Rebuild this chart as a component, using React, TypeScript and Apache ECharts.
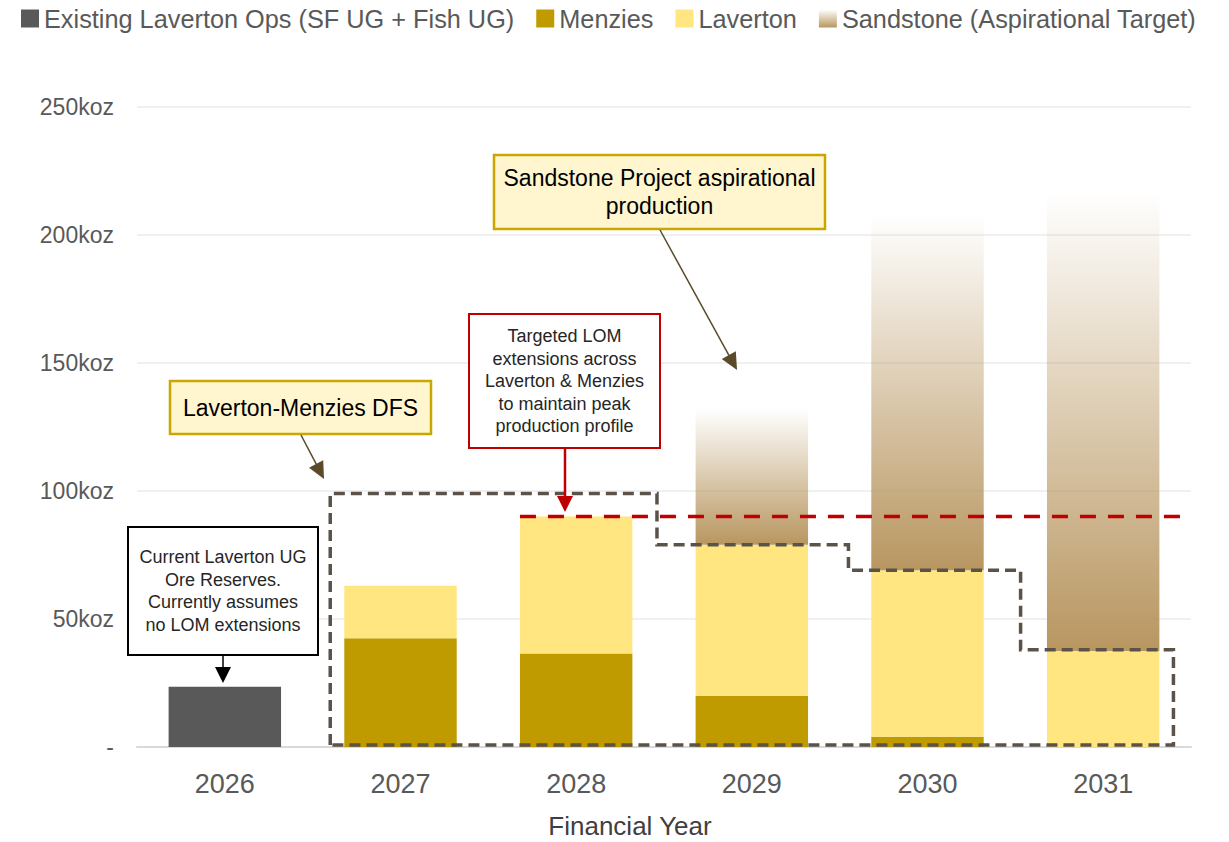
import React, { useEffect, useRef } from "react";
import * as echarts from "echarts";

// ---- data ----
const years = ["2026", "2027", "2028", "2029", "2030", "2031"];
const existingOps = [23.5, null, null, null, null, null];
const menzies = [null, 42.5, 36.5, 20, 4, null];
const laverton = [null, 20.5, 53.5, 59, 65, 37.5];
const sandstone = [null, null, null, 53, 139, 179.5];
const yTickMax = 250;
const yTickStep = 50;
// peak production target line: [category position, koz]
const peakLine: [number, number][] = [
  [1.68, 90],
  [5.45, 90],
];
// Laverton-Menzies DFS outline: [category position, koz]
const dfsOutline: [number, number][] = [
  [0.6, 0.8],
  [0.6, 99],
  [2.46, 99],
  [2.46, 79],
  [3.55, 79],
  [3.55, 69],
  [4.53, 69],
  [4.53, 38],
  [5.4, 38],
  [5.4, 0.8],
];

const FONT = "'Liberation Sans', Arial, sans-serif";

function arrow(
  x1: number,
  y1: number,
  x2: number,
  y2: number,
  color: string,
  lw: number,
  hl: number,
  hw: number
) {
  const dx = x2 - x1;
  const dy = y2 - y1;
  const L = Math.hypot(dx, dy);
  const ux = dx / L;
  const uy = dy / L;
  const bx = x2 - ux * hl;
  const by = y2 - uy * hl;
  return [
    {
      type: "line",
      shape: { x1, y1, x2: bx + ux * 2, y2: by + uy * 2 },
      style: { stroke: color, lineWidth: lw },
      z: 100,
    },
    {
      type: "polygon",
      shape: {
        points: [
          [x2, y2],
          [bx - uy * hw, by + ux * hw],
          [bx + uy * hw, by - ux * hw],
        ],
      },
      style: { fill: color },
      z: 100,
    },
  ];
}

function box(
  x: number,
  y: number,
  w: number,
  h: number,
  fill: string,
  stroke: string,
  lw: number,
  text: string,
  fontSize: number,
  lineHeight: number,
  color: string
) {
  return [
    {
      type: "rect",
      shape: { x, y, width: w, height: h },
      style: { fill, stroke, lineWidth: lw },
      z: 100,
    },
    {
      type: "text",
      x: x + w / 2,
      y: y + h / 2,
      style: {
        text,
        fontSize,
        fontFamily: FONT,
        lineHeight,
        fill: color,
        align: "center",
        textAlign: "center",
        verticalAlign: "middle",
        textVerticalAlign: "middle",
      },
      z: 101,
    },
  ];
}

export default function App() {
  const ref = useRef<HTMLDivElement>(null);

  useEffect(() => {
    if (!ref.current) return;
    const chart = echarts.init(ref.current, null, { renderer: "svg" });

    const sandGradient = new echarts.graphic.LinearGradient(0, 0, 0, 1, [
      { offset: 0, color: "rgba(184,150,96,0)" },
      { offset: 1, color: "#B89660" },
    ]);

    const option: any = {
      animation: false,
      backgroundColor: "#ffffff",
      textStyle: { fontFamily: FONT },
      legend: {
        data: [
          "Existing Laverton Ops (SF UG + Fish UG)",
          "Menzies",
          "Laverton",
          "Sandstone (Aspirational Target)",
        ],
        left: 21,
        top: 6,
        padding: 0,
        itemWidth: 18,
        itemHeight: 18,
        itemGap: 22,
        icon: "rect",
        textStyle: { fontSize: 25.3, color: "#595959", fontFamily: FONT },
      },
      grid: { left: 137, right: 38, top: 107, bottom: 95 },
      xAxis: {
        type: "category",
        data: years,
        axisLine: { lineStyle: { color: "#D9D9D9", width: 2 } },
        axisTick: { show: false },
        axisLabel: { fontSize: 27, color: "#595959", margin: 23, fontFamily: FONT },
      },
      yAxis: {
        type: "value",
        min: 0,
        max: yTickMax,
        interval: yTickStep,
        axisLine: { show: false },
        axisTick: { show: false },
        splitLine: { lineStyle: { color: "#F0F0F0", width: 2 } },
        axisLabel: {
          fontSize: 23,
          color: "#595959",
          margin: 23,
          fontFamily: FONT,
          formatter: (v: number) => (v === 0 ? "-" : v + "koz"),
        },
      },
      series: [
        {
          name: "Existing Laverton Ops (SF UG + Fish UG)",
          type: "bar",
          stack: "total",
          barWidth: "64%",
          data: existingOps,
          itemStyle: { color: "#595959" },
        },
        {
          name: "Menzies",
          type: "bar",
          stack: "total",
          barWidth: "64%",
          data: menzies,
          itemStyle: { color: "#BF9B00" },
        },
        {
          name: "Laverton",
          type: "bar",
          stack: "total",
          barWidth: "64%",
          data: laverton,
          itemStyle: { color: "#FFE680" },
        },
        {
          name: "Sandstone (Aspirational Target)",
          type: "bar",
          stack: "total",
          barWidth: "64%",
          data: sandstone,
          itemStyle: { color: sandGradient },
        },
        {
          name: "lines",
          type: "custom",
          z: 10,
          silent: true,
          clip: false,
          data: [[0, 0]],
          renderItem: (_params: any, api: any) => {
            const x0 = api.coord([0, 0])[0];
            const x1 = api.coord([1, 0])[0];
            const step = x1 - x0;
            const pt = (p: [number, number]) => [x0 + p[0] * step, api.coord([0, p[1]])[1]];
            return {
              type: "group",
              children: [
                {
                  type: "polygon",
                  shape: { points: dfsOutline.map(pt) },
                  style: { fill: "none", stroke: "#5B5249", lineWidth: 3.5, lineDash: [11, 6] },
                },
                {
                  type: "polyline",
                  shape: { points: peakLine.map(pt) },
                  style: { fill: "none", stroke: "#C00000", lineWidth: 3.5, lineDash: [16, 12] },
                },
              ],
            };
          },
        },
      ],
      graphic: [
        ...box(
          128,
          527,
          190,
          128,
          "#ffffff",
          "#000000",
          2,
          "Current Laverton UG\nOre Reserves.\nCurrently assumes\nno LOM extensions",
          18,
          22.5,
          "#262626"
        ),
        ...arrow(223, 655, 223, 683, "#000000", 1.5, 16, 8),
        ...box(170, 381, 261, 53, "#FFF5CE", "#C9A600", 2.5, "Laverton-Menzies DFS", 23, 28, "#000000"),
        ...arrow(301, 435, 324, 479, "#5A4A2A", 1.5, 17, 8),
        ...box(
          469,
          314,
          191,
          134,
          "#ffffff",
          "#C00000",
          2,
          "Targeted LOM\nextensions across\nLaverton & Menzies\nto maintain peak\nproduction profile",
          18,
          22.5,
          "#262626"
        ),
        ...arrow(565, 448, 565, 512, "#C00000", 2.5, 16, 8),
        ...box(
          494,
          155,
          331,
          74,
          "#FFF5CE",
          "#C9A600",
          2.5,
          "Sandstone Project aspirational\nproduction",
          23,
          28,
          "#000000"
        ),
        ...arrow(660, 230, 737, 370, "#5A4A2A", 1.5, 17, 8),
        {
          type: "text",
          x: 630,
          y: 826,
          style: {
            text: "Financial Year",
            fontSize: 26,
            fontFamily: FONT,
            fill: "#404040",
            align: "center",
            textAlign: "center",
            verticalAlign: "middle",
            textVerticalAlign: "middle",
          },
        },
      ],
    };

    chart.setOption(option);
    return () => chart.dispose();
  }, []);

  return (
    <div
      ref={ref}
      style={{ position: "fixed", left: 0, top: 0, width: 1229, height: 842, background: "#fff" }}
    />
  );
}
